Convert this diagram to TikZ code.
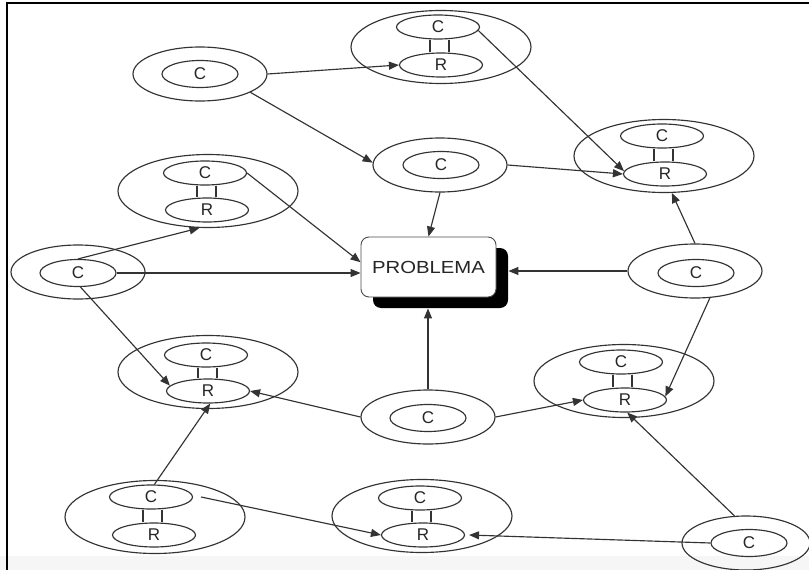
\documentclass[tikz,border=0pt]{standalone}
\usepackage{fontspec}
\setmainfont{Liberation Sans}
\usetikzlibrary{shapes.geometric,arrows.meta,shadows}

\begin{document}
\begin{tikzpicture}[x=1pt,y=-1pt,
  ink/.style={draw=black!80, line width=1.15pt},
  ring/.style={ellipse, ink, inner sep=0pt, minimum width=134pt, minimum height=54pt},
  ringbig/.style={ellipse, ink, inner sep=0pt, minimum width=180pt, minimum height=73pt},
  cell/.style={ellipse, ink, inner sep=0pt, minimum width=76pt, minimum height=27pt,
    font=\fontsize{17}{17}\selectfont, text=black!85},
  part/.style={ellipse, ink, inner sep=0pt, minimum width=83pt, minimum height=24pt,
    font=\fontsize{17}{17}\selectfont, text=black!85},
  link/.style={ink, -{Triangle[length=10pt,width=8pt]}},
  problem/.style={draw=black!70, line width=0.9pt, fill=white, rounded corners=8pt,
    minimum width=135pt, minimum height=60pt, inner sep=0pt,
    drop shadow={shadow xshift=12pt, shadow yshift=-11pt, fill=black, opacity=1},
    font=\fontsize{17.5}{17.5}\selectfont, text=black!85}
]
\useasboundingbox (0,0) rectangle (809,570);
\fill[gray!7] (0,556) rectangle (809,570);
\draw[line width=2.8pt] (7,570) -- (7,3) -- (809,3);

% single C nodes
\node[ring] (A) at (200,74) {};  \node[cell] (A-c) at (200,74) {C};
\node[ring] (D) at (440,165) {}; \node[cell] (D-c) at (441,165) {C};
\node[ring] (F) at (695,271) {}; \node[cell] (F-c) at (696,273) {C};
\node[ring] (H) at (78,272) {};  \node[cell] (H-c) at (78,273) {C};
\node[ring] (J) at (428,417) {}; \node[cell] (J-c) at (428,418) {C};
\node[ring, minimum width=128pt] (L) at (746,543) {}; \node[cell] (L-c) at (749,543) {C};

% C--R pairs
\node[ringbig] (B) at (441,47) {};  \node[part] (B-c) at (438,27) {C};  \node[part] (B-r) at (441,65) {R};
\node[ringbig] (E) at (664,156) {}; \node[part] (E-c) at (662,136) {C}; \node[part] (E-r) at (665,174) {R};
\node[ringbig] (G) at (208,191) {}; \node[part] (G-c) at (205,173) {C}; \node[part] (G-r) at (207,210) {R};
\node[ringbig] (I) at (208,372) {}; \node[part] (I-c) at (206,355) {C}; \node[part] (I-r) at (208,391) {R};
\node[ringbig] (K) at (624,381) {}; \node[part] (K-c) at (621,362) {C}; \node[part] (K-r) at (625,400) {R};
\node[ringbig] (M) at (155,517) {}; \node[part] (M-c) at (151,497) {C}; \node[part] (M-r) at (154,535) {R};
\node[ringbig] (N) at (422,516) {}; \node[part] (N-c) at (420,498) {C}; \node[part] (N-r) at (423,535) {R};

\foreach \n in {B,E,G,I,K,M,N} {
  \draw[ink] ([xshift=-8pt]\n-c.south) -- ([xshift=-8pt]\n-c.south |- \n-r.north);
  \draw[ink] ([xshift=11pt]\n-c.south) -- ([xshift=11pt]\n-c.south |- \n-r.north);
}

% central box
\node[problem] (P) at (428.5,267) {\scalebox{1.16}[1]{PROBLEMA}};
\coordinate (Ps) at ([shift={(12,11)}]P.south east);

% connectors
\draw[link] (A.east) -- (B-r.west);
\draw[link] (A.-20) -- (D.178);
\draw[link] (B-c.-5) -- (E-r.176);
\draw[link] (D.east) -- (E-r.west);
\draw[link] (D.south) -- (P.north);
\draw[link] (G-c.east) -- (P.176);
\draw[link] (H-c.east) -- (H-c.east -| P.west);
\draw[link] (H-c.north) -- (G.257);
\draw[link] (H-c.-80) -- (I-r.172);
\draw[link] (F.west) -- (F.west -| Ps);
\draw[link] (F.north) -- (E.-78);
\draw[link] (F.-61) -- (K-r.5);
\draw[link] (J.north) -- (J.north |- Ps);
\draw[link] (J.west) -- (I-r.east);
\draw[link] (J.east) -- (K-r.west);
\draw[link] (M-c.75) -- (I-r.-80);
\draw[link] ([xshift=8pt]M-c.east) -- (N-r.west);
\draw[link] (L-c.west) -- ([xshift=4pt]N-r.east);
\draw[link] (L.113) -- (K-r.-80);
\end{tikzpicture}
\end{document}
